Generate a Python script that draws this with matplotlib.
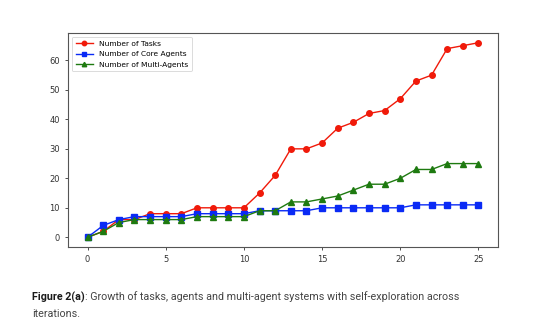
import matplotlib
matplotlib.use("Agg")
import matplotlib.pyplot as plt

iterations = list(range(26))
num_tasks = [0, 2, 6, 6, 8, 8, 8, 10, 10, 10, 10, 15, 21, 30, 30, 32, 37, 39, 42, 43, 47, 53, 55, 64, 65, 66]
num_core_agents = [0, 4, 6, 7, 7, 7, 7, 8, 8, 8, 8, 9, 9, 9, 9, 10, 10, 10, 10, 10, 10, 11, 11, 11, 11, 11]
num_multi_agents = [0, 2, 5, 6, 6, 6, 6, 7, 7, 7, 7, 9, 9, 12, 12, 13, 14, 16, 18, 18, 20, 23, 23, 25, 25, 25]

caption_bold = "Figure 2(a)"
caption_rest = ": Growth of tasks, agents and multi-agent systems with self-exploration across"
caption_line2 = "iterations."

W, H = 550, 332
fig = plt.figure(figsize=(W / 100, H / 100), dpi=100)
ax = fig.add_axes([68 / W, 1 - 247 / H, 430 / W, 214 / H])

ax.plot(iterations, num_tasks, color="#f01a0a", marker="o", markersize=4, linewidth=1, label="Number of Tasks")
ax.plot(iterations, num_core_agents, color="#0a2af5", marker="s", markersize=4, linewidth=1, label="Number of Core Agents")
ax.plot(iterations, num_multi_agents, color="#1e7a10", marker="^", markersize=4, linewidth=1, label="Number of Multi-Agents")

ax.set_xticks([0, 5, 10, 15, 20, 25])
ax.set_yticks([0, 10, 20, 30, 40, 50, 60])
ax.tick_params(labelsize=6, length=2.5, width=0.6, colors="#333333")
for s in ax.spines.values():
    s.set_color("#555555")
    s.set_linewidth(0.8)

leg = ax.legend(loc="upper left", fontsize=5.4, frameon=True, handlelength=2.3, borderpad=0.5,
                labelspacing=0.55, markerscale=0.8, bbox_to_anchor=(0.0, 1.0))
leg.get_frame().set_linewidth(0.6)

# caption under the chart: bold label, then regular text
cap_font = "Roboto"
fig.canvas.draw()
r = fig.canvas.get_renderer()


def fitted_text(x, y, s, width_px, **kw):
    t = fig.text(x / W, 1 - y / H, s, fontsize=8, family=cap_font, va="center", **kw)
    w = t.get_window_extent(renderer=r).width
    t.set_fontsize(8 * width_px / w)
    return t


tb = fitted_text(32, 297, caption_bold, 53, fontweight="bold", color="#1a1a1a")
bb = tb.get_window_extent(renderer=r)
tr = fitted_text(bb.x1, 297, caption_rest, 374, color="#444444")
fig.text(32 / W, 1 - 314 / H, caption_line2, fontsize=tr.get_fontsize(), family=cap_font,
         color="#444444", va="center")

fig.savefig("out.png", dpi=100)
